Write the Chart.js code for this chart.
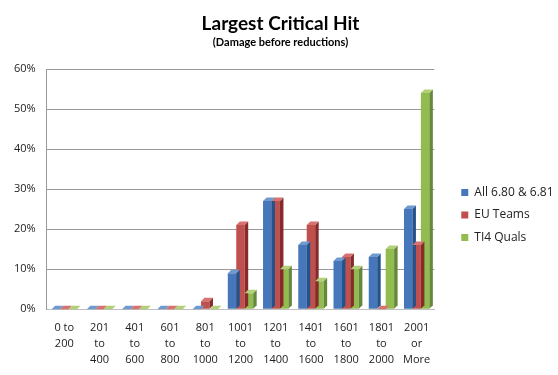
<!DOCTYPE html>
<html>
<head>
<meta charset="utf-8">
<script src="https://cdn.jsdelivr.net/npm/chart.js@4"></script>
<style>
  html, body { margin: 0; padding: 0; background: #fff; }
  #wrap { width: 558px; height: 375px; }
</style>
</head>
<body>
<div id="wrap"><canvas id="critChart"></canvas></div>
<script>
// Chart data
const categories = [
    ['0 to', '200'], ['201', 'to', '400'], ['401', 'to', '600'], ['601', 'to', '800'],
    ['801', 'to', '1000'], ['1001', 'to', '1200'], ['1201', 'to', '1400'], ['1401', 'to', '1600'],
    ['1601', 'to', '1800'], ['1801', 'to', '2000'], ['2001', 'or', 'More']
];
const seriesNames = ['All 6.80 & 6.81', 'EU Teams', 'TI4 Quals'];
const allPatches = [0, 0, 0, 0, 0, 9, 27, 16, 12, 13, 25];
const euTeams = [0, 0, 0, 0, 2, 21, 27, 21, 13, 0, 16];
const ti4Quals = [0, 0, 0, 0, 0, 4, 10, 7, 10, 15, 54];
const yTicks = [0, 10, 20, 30, 40, 50, 60];

const colors = ['#4677BA', '#C0504D', '#92BC50'];
const sideColors = ['#24538C', '#852B29', '#66883A'];
const topColors = ['#6F9AD0', '#D67270', '#B3CF7A'];

// fake 3D faces on each bar
const bar3d = {
    id: 'bar3d',
    afterDatasetsDraw(chart) {
        const ctx = chart.ctx;
        const d = 3.5;
        chart.data.datasets.forEach((ds, i) => {
            chart.getDatasetMeta(i).data.forEach(bar => {
                const p = bar.getProps(['x', 'y', 'base', 'width'], true);
                const l = p.x - p.width / 2, r = p.x + p.width / 2;
                ctx.save();
                ctx.fillStyle = sideColors[i];
                ctx.beginPath();
                ctx.moveTo(r, p.y);
                ctx.lineTo(r + d, p.y - d);
                ctx.lineTo(r + d, p.base - d);
                ctx.lineTo(r, p.base);
                ctx.closePath();
                ctx.fill();
                ctx.fillStyle = topColors[i];
                ctx.beginPath();
                ctx.moveTo(l, p.y);
                ctx.lineTo(l + d, p.y - d);
                ctx.lineTo(r + d, p.y - d);
                ctx.lineTo(r, p.y);
                ctx.closePath();
                ctx.fill();
                ctx.restore();
            });
        });
    }
};

// widen the legend box (smaller plot) and nudge its items like Excel does
const legendShift = {
    id: 'legendShift',
    afterInit(chart) {
        const lg = chart.legend;
        const fit = lg.fit.bind(lg);
        const draw = lg.draw.bind(lg);
        lg.fit = () => { fit(); lg.width += 11; };
        lg.draw = () => {
            lg.ctx.save();
            lg.ctx.translate(16.5, 26);
            draw();
            lg.ctx.restore();
        };
    }
};

const ctx = document.getElementById('critChart').getContext('2d');
new Chart(ctx, {
    type: 'bar',
    data: {
        labels: categories,
        datasets: [
            { label: seriesNames[0], data: allPatches, backgroundColor: colors[0] },
            { label: seriesNames[1], data: euTeams, backgroundColor: colors[1] },
            { label: seriesNames[2], data: ti4Quals, backgroundColor: colors[2] }
        ]
    },
    options: {
        responsive: true,
        maintainAspectRatio: false,
        animation: false,
        layout: { padding: { left: 3, right: 0, top: 4, bottom: 4 } },
        datasets: {
            bar: { categoryPercentage: 0.72, barPercentage: 1 }
        },
        plugins: {
            title: {
                display: true,
                text: 'Largest Critical Hit',
                color: '#000',
                font: { family: 'Lato', size: 19, weight: 'bold' },
                padding: { top: 8, bottom: 0 }
            },
            subtitle: {
                display: true,
                text: '(Damage before reductions)',
                color: '#000',
                font: { family: 'Lato', size: 11, weight: 'bold' },
                padding: { top: 1, bottom: 20 }
            },
            legend: {
                position: 'right',
                fullSize: false,
                labels: {
                    color: '#222',
                    boxWidth: 7,
                    boxHeight: 7,
                    padding: 10.5,
                    font: { family: 'Open Sans', size: 12 }
                }
            },
            tooltip: { enabled: false }
        },
        scales: {
            x: {
                grid: { display: false },
                border: { color: '#BFBFBF' },
                ticks: {
                    color: '#222',
                    maxRotation: 0,
                    autoSkip: false,
                    font: { family: 'Open Sans', size: 11, lineHeight: 1.45 }
                }
            },
            y: {
                min: 0,
                max: 60,
                afterBuildTicks: axis => { axis.ticks = yTicks.map(v => ({ value: v })); },
                grid: { color: '#9A9A9A', drawTicks: false },
                border: { color: '#9A9A9A' },
                ticks: {
                    color: '#222',
                    padding: 11,
                    font: { family: 'Open Sans', size: 11 },
                    callback: v => v + '%'
                }
            }
        }
    },
    plugins: [bar3d, legendShift]
});
</script>
</body>
</html>
